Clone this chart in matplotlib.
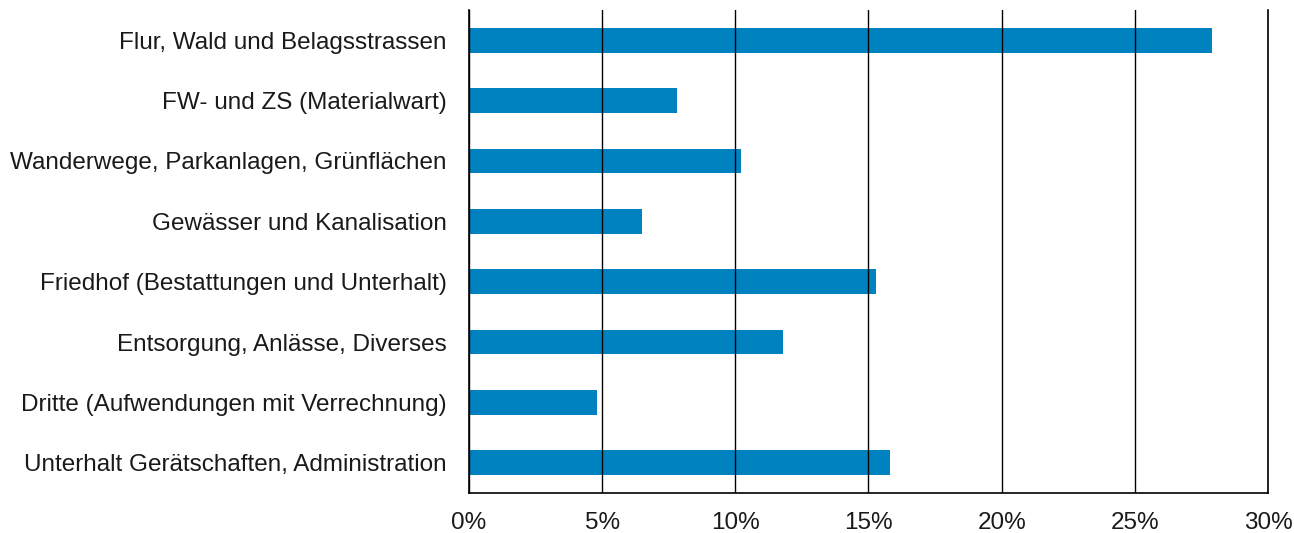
import matplotlib.pyplot as plt

# Kategorien und Anteile (in %)
categories = [
    "Flur, Wald und Belagsstrassen",
    "FW- und ZS (Materialwart)",
    "Wanderwege, Parkanlagen, Grünflächen",
    "Gewässer und Kanalisation",
    "Friedhof (Bestattungen und Unterhalt)",
    "Entsorgung, Anlässe, Diverses",
    "Dritte (Aufwendungen mit Verrechnung)",
    "Unterhalt Gerätschaften, Administration",
]
shares = [27.9, 7.8, 10.2, 6.5, 15.3, 11.8, 4.8, 15.8]
xticks = [0, 5, 10, 15, 20, 25, 30]

plt.rcParams["font.family"] = ["Liberation Sans", "DejaVu Sans"]

fig = plt.figure(figsize=(12.94, 5.33), dpi=100)
ax = fig.add_axes([469 / 1294, 1 - 493 / 533, 799 / 1294, 483 / 533])

ypos = list(range(len(categories)))
ax.barh(ypos, shares, height=0.41, color="#0082c0", zorder=1)

ax.set_ylim(len(categories) - 0.5, -0.5)
ax.set_xlim(0, 30)
ax.set_yticks(ypos)
ax.set_yticklabels(categories, fontsize=17.5, color="#1a1a1a")
ax.set_xticks(xticks)
ax.set_xticklabels([f"{t}%" for t in xticks], fontsize=17.5, color="#1a1a1a")
ax.tick_params(axis="both", length=0)
ax.tick_params(axis="x", pad=14)
ax.tick_params(axis="y", pad=16)

ax.grid(axis="x", color="black", linewidth=1.0, zorder=2)
ax.set_axisbelow(False)
ax.spines["top"].set_visible(False)
for s in ["left", "bottom", "right"]:
    ax.spines[s].set_color("black")
    ax.spines[s].set_linewidth(1.2)

fig.savefig("out.png", dpi=100)
